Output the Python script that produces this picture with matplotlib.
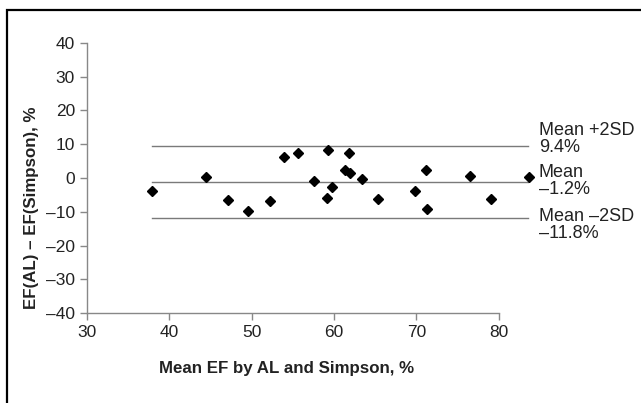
import matplotlib
matplotlib.use("Agg")
import matplotlib.pyplot as plt
from matplotlib.patches import Rectangle

plt.rcParams['font.family'] = ['Liberation Sans', 'DejaVu Sans']

mean_ef = [37.9, 44.5, 47.1, 49.6, 52.3, 54.0, 55.6, 57.6, 59.3, 59.2, 59.8,
           61.8, 61.4, 61.9, 63.4, 65.3, 69.8, 71.2, 71.3, 76.5, 79.1, 83.7]
diff_ef = [-3.8, 0.2, -6.5, -9.7, -6.8, 6.2, 7.3, -0.9, 8.4, -5.8, -2.7,
           7.3, 2.4, 1.4, -0.4, -6.3, -3.8, 2.4, -9.3, 0.6, -6.3, 0.4]
line_values = [9.4, -1.2, -11.8]
line_labels = ["Mean +2SD\n9.4%", "Mean\n\u20131.2%", "Mean \u20132SD\n\u201311.8%"]
x_ticks = [30, 40, 50, 60, 70, 80]
y_ticks = [40, 30, 20, 10, 0, -10, -20, -30, -40]
y_tick_labels = ["40", "30", "20", "10", "0", "\u201310", "\u201320", "\u201330", "\u201340"]

W, H = 641, 403
fig = plt.figure(figsize=(W / 100, H / 100), dpi=100)
ax = fig.add_axes([86.7 / W, (H - 313.3) / H, 412 / W, 270.6 / H])

# outer frame (only top/left visible in reference)
fig.patches.append(Rectangle((6.5 / W, -0.1), 1.2, (H - 10) / H + 0.1,
                             transform=fig.transFigure, fill=False,
                             edgecolor='black', linewidth=1.6))

ax.set_xlim(30, 80)
ax.set_ylim(-40, 40)

line_x0 = 37.9
line_x1 = 83.5
for v in line_values:
    ax.plot([line_x0, line_x1], [v, v], color='#7a7a7a', linewidth=1.0,
            clip_on=False, zorder=2)

ax.plot(mean_ef, diff_ef, linestyle='none', marker='D', markersize=5,
        color='black', clip_on=False, zorder=3)

label_y = [11.5, -0.9, -13.9]
for ly, txt in zip(label_y, line_labels):
    ax.text(84.85, ly, txt, fontsize=13, va='center', ha='left',
            linespacing=0.95, color='#222222')

for s in ['top', 'right']:
    ax.spines[s].set_visible(False)
for s in ['left', 'bottom']:
    ax.spines[s].set_color('#888888')
    ax.spines[s].set_linewidth(1.0)

ax.set_xticks(x_ticks)
ax.set_yticks(y_ticks)
ax.set_yticklabels(y_tick_labels)
ax.tick_params(axis='both', colors='#888888', labelcolor='#222222',
               labelsize=12.5, length=5, width=1.0, direction='out')

fig.text(287 / W, (H - 369) / H, "Mean EF by AL and Simpson, %",
         fontsize=12.2, fontweight='bold', ha='center', va='center', color='#222222')
fig.text(32 / W, (H - 208) / H, "EF(AL) \u2013 EF(Simpson), %",
         fontsize=12.2, fontweight='bold', ha='center', va='center',
         rotation=90, color='#222222')

fig.savefig("out.png", dpi=100)
